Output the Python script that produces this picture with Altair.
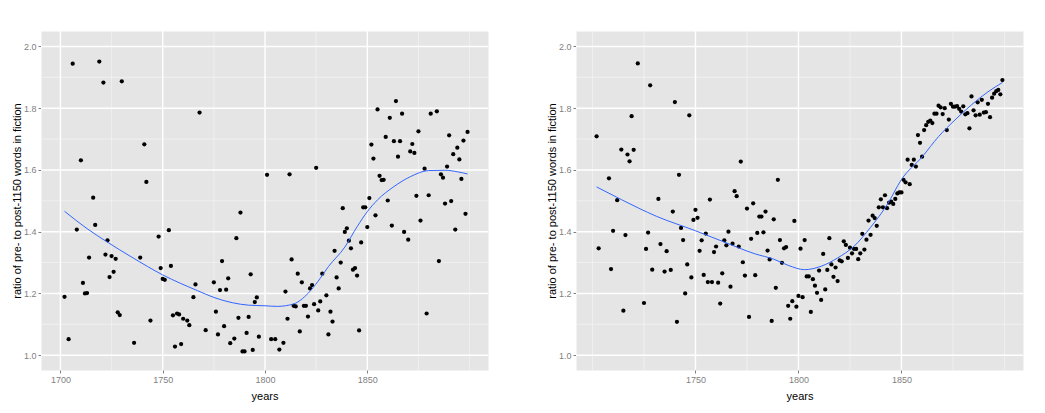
import altair as alt
import pandas as pd

# ---------------------------------------------------------------------------
# DATA
# ---------------------------------------------------------------------------

# left panel: yearly ratio
left_years = [
    1702, 1704, 1706, 1708, 1710, 1711, 1712, 1713, 1714, 1716, 1717, 1719,
    1721, 1722, 1723, 1724, 1725, 1726, 1727, 1728, 1729, 1730, 1736, 1739,
    1741, 1742, 1744, 1748, 1749, 1750, 1751, 1753, 1754, 1755, 1756, 1757,
    1758, 1759, 1760, 1762, 1763, 1765, 1766, 1768, 1771, 1775, 1776, 1777,
    1778, 1779, 1780, 1781, 1782, 1783, 1785, 1786, 1787, 1788, 1789, 1790,
    1791, 1792, 1793, 1794, 1795, 1796, 1797, 1801, 1803, 1805, 1807, 1809,
    1810, 1811, 1812, 1813, 1814, 1815, 1816, 1817, 1818, 1819, 1820, 1821,
    1822, 1823, 1824, 1825, 1826, 1827, 1828, 1830, 1831, 1832, 1833, 1834,
    1835, 1836, 1837, 1838, 1839, 1840, 1841, 1842, 1843, 1844, 1845, 1846,
    1847, 1848, 1849, 1850, 1851, 1852, 1853, 1854, 1855, 1856, 1857, 1858,
    1859, 1860, 1861, 1862, 1863, 1864, 1865, 1866, 1867, 1868, 1870, 1871,
    1872, 1873, 1874, 1875, 1876, 1878, 1879, 1880, 1881, 1884, 1885, 1886,
    1887, 1888, 1889, 1890, 1891, 1892, 1893, 1894, 1895, 1896, 1897, 1898,
    1899,
]
left_ratio = [
    1.189, 1.052, 1.944, 1.407, 1.631, 1.234, 1.200, 1.201, 1.316, 1.510, 1.422, 1.951,
    1.883, 1.326, 1.372, 1.253, 1.321, 1.270, 1.312, 1.139, 1.130, 1.887, 1.040, 1.316,
    1.683, 1.561, 1.112, 1.384, 1.282, 1.247, 1.244, 1.405, 1.289, 1.129, 1.028, 1.135,
    1.132, 1.036, 1.118, 1.112, 1.097, 1.188, 1.229, 1.786, 1.081, 1.236, 1.141, 1.067,
    1.211, 1.305, 1.094, 1.212, 1.249, 1.039, 1.054, 1.379, 1.121, 1.462, 1.012, 1.012,
    1.072, 1.124, 1.262, 1.017, 1.172, 1.187, 1.060, 1.584, 1.052, 1.052, 1.018, 1.040,
    1.206, 1.118, 1.586, 1.310, 1.160, 1.158, 1.264, 1.077, 1.236, 1.160, 1.160, 1.125,
    1.216, 1.227, 1.165, 1.607, 1.145, 1.174, 1.264, 1.194, 1.067, 1.141, 1.109, 1.338,
    1.252, 1.216, 1.300, 1.476, 1.399, 1.411, 1.371, 1.346, 1.277, 1.282, 1.258, 1.080,
    1.365, 1.479, 1.479, 1.415, 1.509, 1.682, 1.637, 1.453, 1.796, 1.581, 1.567, 1.568,
    1.707, 1.501, 1.769, 1.420, 1.693, 1.823, 1.643, 1.693, 1.782, 1.399, 1.374, 1.660,
    1.684, 1.655, 1.516, 1.725, 1.436, 1.604, 1.135, 1.518, 1.782, 1.790, 1.305, 1.586,
    1.575, 1.491, 1.611, 1.712, 1.499, 1.651, 1.407, 1.672, 1.634, 1.571, 1.695, 1.458,
    1.723,
]
# left panel: smoother as drawn
left_fit_years = [1702, 1713, 1723, 1735, 1750, 1767, 1775, 1784, 1792, 1800, 1806,
                  1814, 1821, 1826, 1831, 1839, 1845, 1850, 1855, 1863, 1871, 1880,
                  1888, 1894, 1899]
left_fit = [1.466, 1.410, 1.366, 1.317, 1.260, 1.209, 1.187, 1.170, 1.162, 1.160, 1.158,
            1.166, 1.200, 1.240, 1.287, 1.350, 1.416, 1.465, 1.503, 1.546, 1.578, 1.598,
            1.599, 1.594, 1.587]

# right panel: yearly ratio
right_years = [
    1702, 1703, 1708, 1709, 1710, 1712, 1714, 1715, 1716, 1717, 1718, 1719,
    1720, 1722, 1725, 1726, 1727, 1728, 1729, 1732, 1733, 1735, 1736, 1738,
    1739, 1740, 1741, 1742, 1743, 1744, 1745, 1746, 1747, 1748, 1749, 1750,
    1751, 1752, 1753, 1754, 1755, 1756, 1757, 1758, 1759, 1760, 1761, 1762,
    1763, 1764, 1765, 1766, 1767, 1768, 1769, 1770, 1771, 1772, 1773, 1774,
    1775, 1776, 1777, 1778, 1779, 1780, 1781, 1782, 1783, 1784, 1785, 1786,
    1787, 1788, 1789, 1790, 1791, 1792, 1793, 1794, 1795, 1796, 1797, 1798,
    1799, 1800, 1801, 1802, 1803, 1804, 1805, 1806, 1807, 1808, 1809, 1810,
    1811, 1812, 1813, 1814, 1815, 1816, 1817, 1818, 1819, 1820, 1821, 1822,
    1823, 1824, 1825, 1826, 1827, 1828, 1829, 1830, 1831, 1832, 1833, 1834,
    1835, 1836, 1837, 1838, 1839, 1840, 1841, 1842, 1843, 1844, 1845, 1846,
    1847, 1848, 1849, 1850, 1851, 1852, 1853, 1854, 1855, 1856, 1857, 1858,
    1859, 1860, 1861, 1862, 1863, 1864, 1865, 1866, 1867, 1868, 1869, 1870,
    1871, 1872, 1873, 1874, 1875, 1876, 1877, 1878, 1879, 1880, 1881, 1882,
    1883, 1884, 1885, 1886, 1887, 1888, 1889, 1890, 1891, 1892, 1893, 1894,
    1895, 1896, 1897, 1898, 1899,
]
right_ratio = [
    1.709, 1.346, 1.573, 1.279, 1.403, 1.502, 1.666, 1.144, 1.389, 1.650, 1.628, 1.774,
    1.665, 1.945, 1.169, 1.344, 1.397, 1.874, 1.277, 1.506, 1.360, 1.271, 1.337, 1.276,
    1.465, 1.820, 1.108, 1.584, 1.412, 1.373, 1.200, 1.294, 1.777, 1.252, 1.438, 1.471,
    1.445, 1.338, 1.372, 1.260, 1.394, 1.237, 1.504, 1.237, 1.334, 1.352, 1.235, 1.167,
    1.265, 1.372, 1.356, 1.400, 1.222, 1.361, 1.531, 1.515, 1.352, 1.627, 1.301, 1.258,
    1.475, 1.124, 1.377, 1.492, 1.259, 1.396, 1.449, 1.449, 1.398, 1.465, 1.339, 1.310,
    1.111, 1.440, 1.218, 1.568, 1.373, 1.299, 1.346, 1.350, 1.160, 1.118, 1.175, 1.435,
    1.157, 1.192, 1.345, 1.188, 1.373, 1.255, 1.255, 1.140, 1.246, 1.225, 1.202, 1.274,
    1.179, 1.328, 1.213, 1.276, 1.379, 1.294, 1.254, 1.284, 1.240, 1.307, 1.304, 1.369,
    1.357, 1.315, 1.348, 1.330, 1.344, 1.344, 1.311, 1.330, 1.393, 1.342, 1.374, 1.436,
    1.390, 1.452, 1.444, 1.419, 1.479, 1.505, 1.479, 1.518, 1.476, 1.494, 1.497, 1.490,
    1.506, 1.524, 1.527, 1.527, 1.568, 1.560, 1.633, 1.554, 1.616, 1.633, 1.611, 1.713,
    1.688, 1.643, 1.729, 1.745, 1.756, 1.760, 1.752, 1.782, 1.782, 1.808, 1.803, 1.781,
    1.800, 1.729, 1.763, 1.814, 1.805, 1.805, 1.807, 1.798, 1.789, 1.806, 1.780, 1.784,
    1.735, 1.838, 1.793, 1.777, 1.819, 1.779, 1.827, 1.786, 1.787, 1.814, 1.771, 1.834,
    1.847, 1.855, 1.859, 1.845, 1.891,
]
# right panel: smoother as drawn
right_fit_years = [1702, 1714, 1731, 1750, 1763, 1779, 1788, 1795, 1803, 1811, 1819,
                   1827, 1835, 1843, 1850, 1860, 1868, 1876, 1884, 1892, 1899]
right_fit = [1.545, 1.504, 1.450, 1.403, 1.369, 1.328, 1.311, 1.291, 1.277, 1.288, 1.315,
             1.353, 1.414, 1.487, 1.569, 1.642, 1.708, 1.762, 1.811, 1.853, 1.883]

# breaks
left_x_major = [1700, 1750, 1800, 1850]
left_x_minor = [1725, 1775, 1825, 1875, 1900]
right_x_major = [1750, 1800, 1850]
right_x_minor = [1700, 1725, 1775, 1825, 1875, 1900]
y_major = [1.0, 1.2, 1.4, 1.6, 1.8, 2.0]
y_minor = [1.1, 1.3, 1.5, 1.7, 1.9]

X_TITLE = "years"
Y_TITLE = "ratio of pre- to post-1150 words in fiction"

# ---------------------------------------------------------------------------
# STYLE
# ---------------------------------------------------------------------------

PANEL_BG = "#E5E5E5"
GRID_MAJOR = "#FFFFFF"
GRID_MINOR = "#F2F2F2"
TEXT_GREY = "#7F7F7F"
SMOOTH_BLUE = "#3366FF"
FONT = "Liberation Sans"

PANEL_W = 447
PANEL_H = 339


def build_panel(years, ratio, fit_years, fit_vals, x_major, x_minor, x_domain):
    pts = pd.DataFrame({"years": years, "ratio": ratio})
    fit = pd.DataFrame({"years": fit_years, "ratio": fit_vals})

    x_scale = alt.Scale(domain=x_domain, nice=False, zero=False)
    y_scale = alt.Scale(domain=[0.952, 2.05], nice=False, zero=False)

    # every layer carries the same axis spec so the merge keeps them
    x_axis = alt.Axis(values=x_major, format="d", title=X_TITLE)
    y_axis = alt.Axis(values=y_major, format=".1f", title=Y_TITLE)

    def vgrid(vals, color, width):
        return alt.Chart(pd.DataFrame({"years": vals})).mark_rule(
            color=color, strokeWidth=width
        ).encode(x=alt.X("years:Q", scale=x_scale, axis=x_axis))

    def hgrid(vals, color, width):
        return alt.Chart(pd.DataFrame({"ratio": vals})).mark_rule(
            color=color, strokeWidth=width
        ).encode(y=alt.Y("ratio:Q", scale=y_scale, axis=y_axis))

    points = alt.Chart(pts).mark_circle(size=18, color="#000000", opacity=1).encode(
        x=alt.X("years:Q", scale=x_scale, axis=x_axis),
        y=alt.Y("ratio:Q", scale=y_scale, axis=y_axis),
    )

    smooth = alt.Chart(fit).mark_line(
        color=SMOOTH_BLUE, strokeWidth=1, interpolate="monotone"
    ).encode(
        x=alt.X("years:Q", scale=x_scale, axis=x_axis),
        y=alt.Y("ratio:Q", scale=y_scale, axis=y_axis),
    )

    return alt.layer(
        vgrid(x_minor, GRID_MINOR, 0.8),
        hgrid(y_minor, GRID_MINOR, 0.8),
        vgrid(x_major, GRID_MAJOR, 1.4),
        hgrid(y_major, GRID_MAJOR, 1.4),
        points,
        smooth,
    ).properties(width=PANEL_W, height=PANEL_H)


left = build_panel(left_years, left_ratio, left_fit_years, left_fit,
                   left_x_major, left_x_minor, [1690.5, 1909])
right = build_panel(right_years, right_ratio, right_fit_years, right_fit,
                    right_x_major, right_x_minor, [1692, 1909])

chart = alt.hconcat(left, right, spacing=55).properties(
    padding={"left": 2, "top": 21, "right": 5, "bottom": 2}
).configure_view(
    fill=PANEL_BG, stroke="transparent"
).configure_axis(
    grid=False,
    domain=False,
    tickColor=TEXT_GREY,
    tickSize=3,
    labelColor=TEXT_GREY,
    labelFont=FONT,
    labelFontSize=9,
    labelPadding=2,
    titleFont=FONT,
    titleFontSize=11,
    titleFontWeight="normal",
    titleColor="#000000",
).configure_axisX(
    titlePadding=6,
).configure_axisY(
    titlePadding=1,
)

chart.save("out.html", embed_options={"renderer": "svg", "actions": False})
